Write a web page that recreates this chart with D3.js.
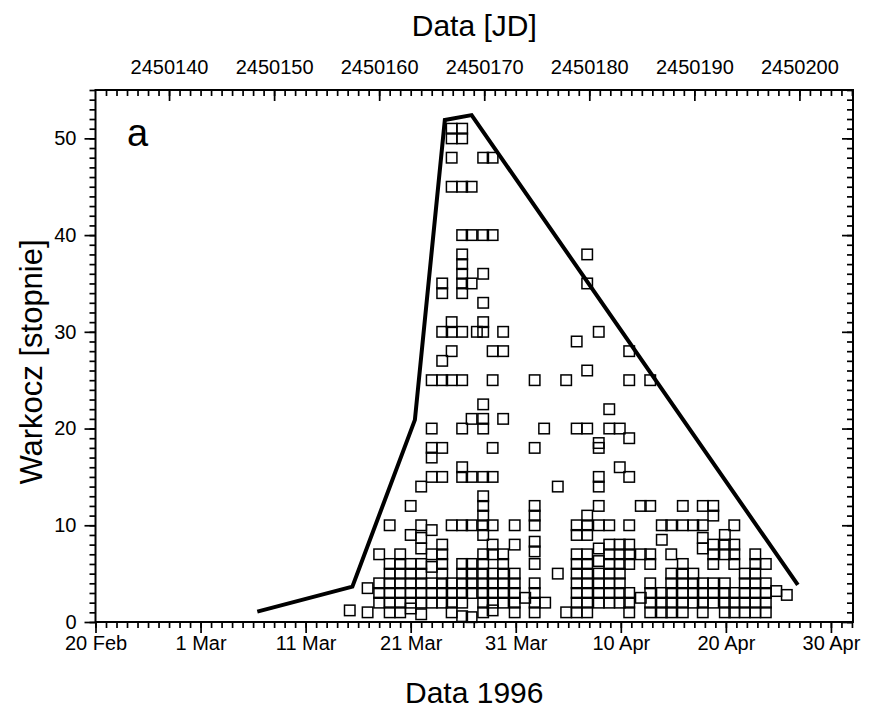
<!DOCTYPE html>
<html><head><meta charset="utf-8">
<script src="https://cdn.jsdelivr.net/npm/d3@7/dist/d3.min.js"></script>
<style>
body{margin:0;background:#fff}
text{font-family:"Liberation Sans",Arial,sans-serif;fill:#000}
</style>
</head><body>
<svg id="chart" width="869" height="709"></svg>
<script>
// ---- data ----
const JD0 = 2450133;               // Julian date at "20 Feb" on the lower axis
// scatter: day offsets (from 20 Feb 1996) and the values observed on that day
const columnDays = [24.2,25.9,27.0,28.0,29.0,30.0,31.0,32.0,33.0,33.9,34.9,35.8,36.3,36.9,37.8,38.8,39.9,40.9,41.8,42.7,42.8,44.0,44.8,45.8,46.8,47.9,48.9,49.9,50.8,51.9,52.8,53.9,54.8,55.9,56.9,57.8,58.8,59.9,60.8,61.8,62.8,63.8,64.8,65.8];
const columnValues = [
  [1.2],
  [1,3.5],
  [7,4,3,2],
  [10,6,5,4,3,2,1],
  [7,6,5,4,3,2,1],
  [12,9,6,5,4,3,2,1.4],
  [14,10,8.7,7.6,6,5,4,3,2,0.8],
  [25,20,18,17,15,9.5,7,5.7,4,3,2],
  [35,34,30,27,25,18,15,8,7,6,5,4,3,2],
  [51,50,48,45,31,30,28,25,10,4,3,2,1],
  [51,50,45,40,38,37,36,35,34,30,25,20,16,15,10,6,5,4,3,2,0.6],
  [45,40,35,21,15,10,6,5,4,3,0.5],
  [30],
  [48,40,36,33,31,30,22.5,21,20,15,13,12,11,10,9,7,6,5,4,3,2,1],
  [48,40,28,25,18,15,10,8,7,5,4,3,2,1.2],
  [30,28,21,7,6,5,4,3,2],
  [10,8,5,4,3,2,1],
  [2.5],
  [25,18,12,11,10,8.3,7.3,6,4,3,2,1],
  [20],
  [2],
  [14,5],
  [25,1],
  [29,20,10,9,7,6,5,4,3,2,1],
  [38,35,26,20,11,10,9,7,6,5,4,3,2,1],
  [30,18.5,18,15,14,12,10,7.6,6.3,5,4,3,2],
  [22,20,10,8,7,6,5,4,3,2],
  [20,16,8,7,6,5,4,3,2],
  [28,25,19,15,10,8,7,6,3,2,1],
  [12,7,2.5],
  [25,12,7,6,4,3,2,1],
  [10,8.5,3,2,1],
  [10,7,5,4,3,2,1],
  [12,10,6,5,4,3,2,1],
  [10,5,4,3,2],
  [12,10,8.7,7.6,4,3,2,1],
  [12,11,8,7,6,4,3,2],
  [9,8,7,4,3,2,1],
  [10,8,7,6,3,2,1],
  [5,4,3,2,1],
  [7,6,5,4,3,2,1],
  [6,4,3,2,1],
  [3.2],
  [2.8]
];
// envelope line
const envelopeDays   = [15.4, 24.45, 30.4, 33.25, 35.8, 66.85];
const envelopeValues = [1.07, 3.65, 20.9, 51.9, 52.4, 3.83];
// axes
const dateTickDays   = [0,10,20,30,40,50,60,70];
const dateTickLabels = ["20 Feb","1 Mar","11 Mar","21 Mar","31 Mar","10 Apr","20 Apr","30 Apr"];
const jdTicks = [2450140,2450150,2450160,2450170,2450180,2450190,2450200];
const yTicks = [0,10,20,30,40,50];

// ---- layout ----
const L = 95.5, R = 853, T = 90, B = 622;
const svg = d3.select("#chart");
const x = d3.scaleLinear().domain([0, 72.1]).range([L, R]);
const xJD = d3.scaleLinear().domain([JD0, JD0 + 72.1]).range([L, R]);
const y = d3.scaleLinear().domain([0, 55]).range([B, T]);

const points = [];
columnDays.forEach((d, i) => columnValues[i].forEach(v => points.push([d, v])));

function styleAxis(g){
  g.select(".domain").remove();
  g.selectAll("line").attr("stroke","#000").attr("stroke-width",1.7);
  g.selectAll("text").attr("font-size",20).attr("fill","#000");
}

// minor ticks
svg.append("g").attr("transform",`translate(0,${B})`)
  .call(d3.axisBottom(x).tickValues(d3.range(0,73)).tickSize(6).tickFormat(""))
  .call(styleAxis);
svg.append("g").attr("transform",`translate(0,${T})`)
  .call(d3.axisTop(xJD).tickValues(d3.range(JD0+1, JD0+73)).tickSize(-6).tickFormat(""))
  .call(styleAxis);
svg.append("g").attr("transform",`translate(${L},0)`)
  .call(d3.axisLeft(y).tickValues(d3.range(0,56)).tickSize(6).tickFormat(""))
  .call(styleAxis);
svg.append("g").attr("transform",`translate(${R},0)`)
  .call(d3.axisRight(y).tickValues(d3.range(0,56)).tickSize(-6).tickFormat(""))
  .call(styleAxis);

// major ticks
svg.append("g").attr("transform",`translate(0,${B})`)
  .call(d3.axisBottom(x).tickValues(dateTickDays).tickSize(11).tickPadding(3)
    .tickFormat((d,i)=>dateTickLabels[i]))
  .call(styleAxis);
svg.append("g").attr("transform",`translate(0,${T})`)
  .call(d3.axisTop(xJD).tickValues(jdTicks).tickSize(-11).tickPadding(16).tickFormat(d3.format("d")))
  .call(styleAxis);
svg.append("g").attr("transform",`translate(${L},0)`)
  .call(d3.axisLeft(y).tickValues(yTicks).tickSize(11).tickPadding(8))
  .call(styleAxis);
svg.append("g").attr("transform",`translate(${R},0)`)
  .call(d3.axisRight(y).tickValues(yTicks).tickSize(-11).tickFormat(""))
  .call(styleAxis);

// frame
svg.append("rect").attr("x",L).attr("y",T).attr("width",R-L).attr("height",B-T)
  .attr("fill","none").attr("stroke","#000").attr("stroke-width",2);

// scatter squares
const s = 10.5;
svg.append("g").selectAll("rect").data(points).join("rect")
  .attr("x",d=>x(d[0])-s/2).attr("y",d=>y(d[1])-s/2)
  .attr("width",s).attr("height",s)
  .attr("fill","none").attr("stroke","#000").attr("stroke-width",1.5);

// envelope
svg.append("path")
  .datum(envelopeDays.map((d,i)=>[d, envelopeValues[i]]))
  .attr("d", d3.line().x(d=>x(d[0])).y(d=>y(d[1])))
  .attr("fill","none").attr("stroke","#000").attr("stroke-width",4)
  .attr("stroke-linejoin","miter");

// labels
svg.append("text").attr("x",(L+R)/2).attr("y",36).attr("text-anchor","middle")
  .attr("font-size",30).text("Data [JD]");
svg.append("text").attr("x",(L+R)/2).attr("y",703).attr("text-anchor","middle")
  .attr("font-size",30).text("Data 1996");
svg.append("text").attr("transform",`translate(42,362) rotate(-90)`)
  .attr("text-anchor","middle").attr("font-size",31).text("Warkocz [stopnie]");
svg.append("text").attr("x",127).attr("y",146).attr("font-size",38).text("a");
</script>
</body></html>
